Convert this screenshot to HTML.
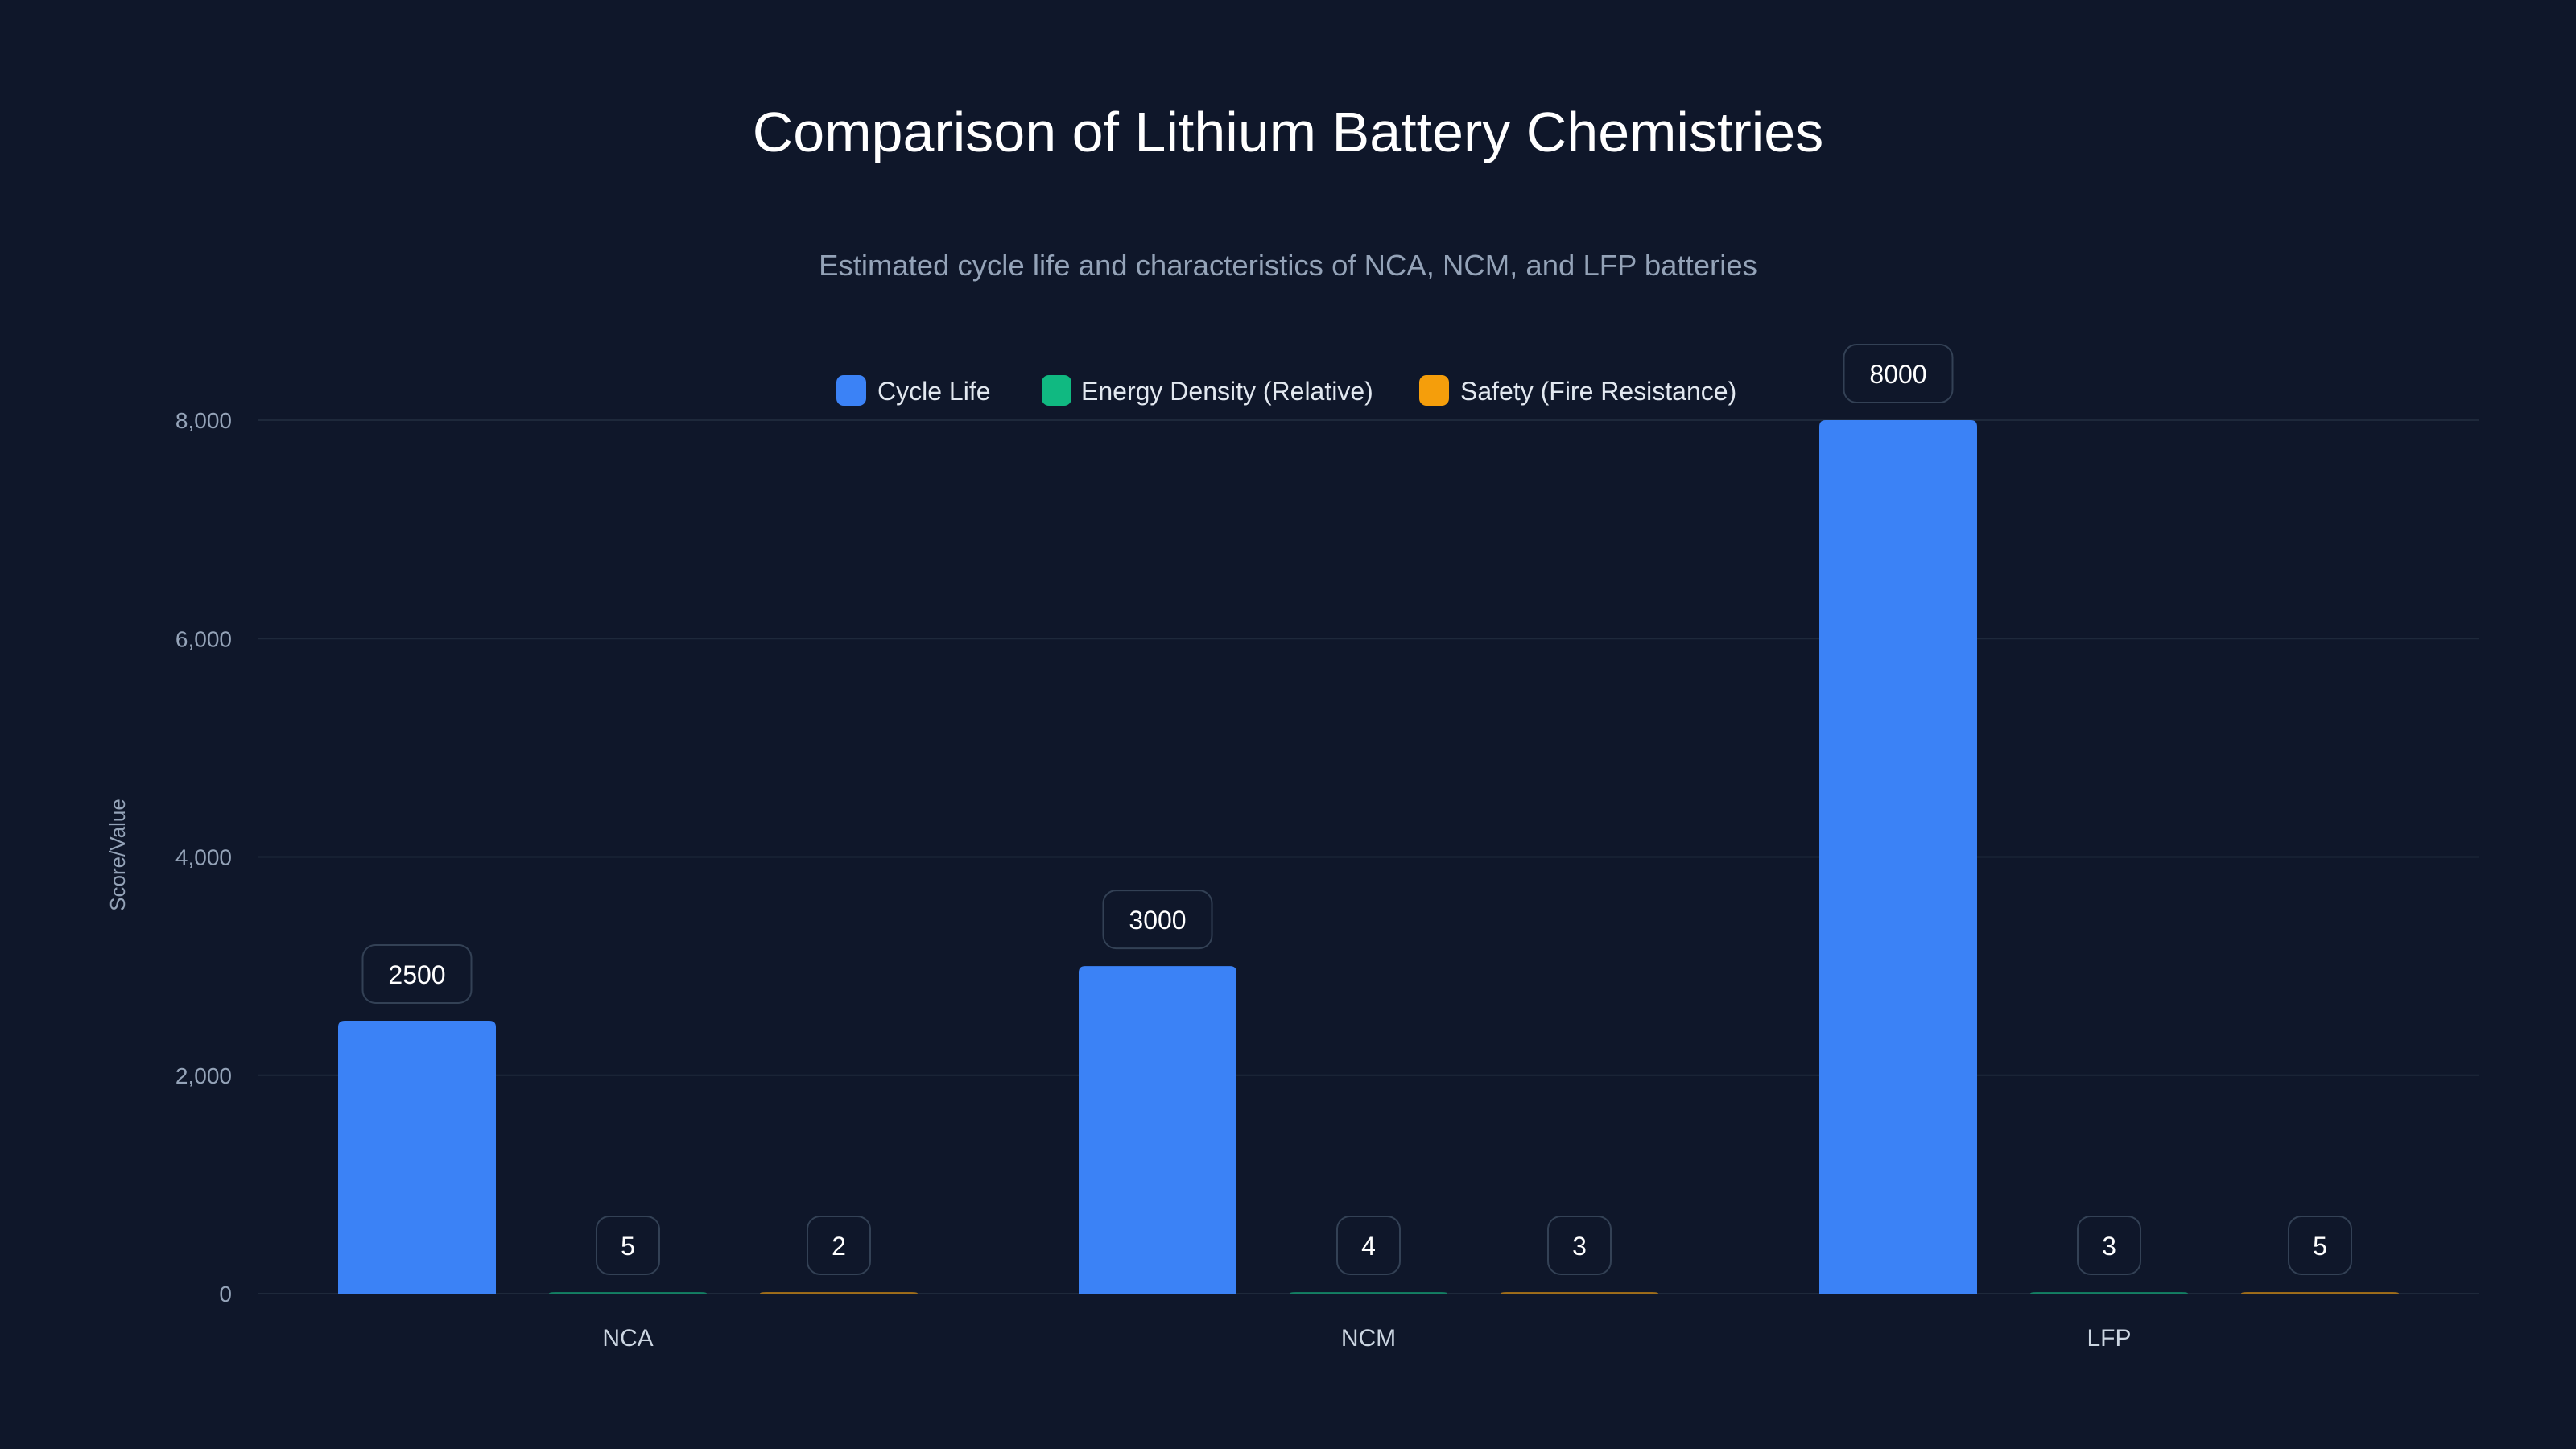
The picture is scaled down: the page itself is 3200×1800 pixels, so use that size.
<!DOCTYPE html>
<html><head><meta charset="utf-8">
<style>
html,body{margin:0;padding:0;background:#0f172a;}
svg{display:block;font-family:"Liberation Sans",sans-serif;}
</style></head>
<body>
<svg id="chart" width="3200" height="1800" viewBox="0 0 3200 1800" xmlns="http://www.w3.org/2000/svg">
<rect x="0" y="0" width="3200" height="1800" fill="#0f172a"/>
<text x="1600" y="188" text-anchor="middle" fill="#ffffff" font-size="70">Comparison of Lithium Battery Chemistries</text>
<text x="1600" y="342" text-anchor="middle" fill="#94a3b8" font-size="36.5">Estimated cycle life and characteristics of NCA, NCM, and LFP batteries</text>
<g>
 <g><rect x="1039" y="466" width="37" height="38" rx="9" fill="#3b82f6"/><text x="1090" y="497" fill="#e2e8f0" font-size="32">Cycle Life</text></g>
 <g><rect x="1294" y="466" width="37" height="38" rx="9" fill="#10b981"/><text x="1343" y="497" fill="#e2e8f0" font-size="32">Energy Density (Relative)</text></g>
 <g><rect x="1763" y="466" width="37" height="38" rx="9" fill="#f59e0b"/><text x="1814" y="497" fill="#e2e8f0" font-size="32">Safety (Fire Resistance)</text></g>
</g>
<text transform="translate(155,1062) rotate(-90)" text-anchor="middle" fill="#94a3b8" font-size="26">Score/Value</text>
<g id="grid"></g>
<g id="bars"></g>
<g id="labels"></g>
</svg>
<script>
const categories = ["NCA", "NCM", "LFP"];
const cycleLife = [2500, 3000, 8000];
const energyDensity = [5, 4, 3];
const safety = [2, 3, 5];
const yTicks = [0, 2000, 4000, 6000, 8000];
const yTickLabels = ["0", "2,000", "4,000", "6,000", "8,000"];

const NS = "http://www.w3.org/2000/svg";
const plotL = 320, plotR = 3080, plotT = 522, plotB = 1607, yMax = 8000;
function yScale(v){ return plotB - v / yMax * (plotB - plotT); }
const band = (plotR - plotL) / categories.length;
function xCenter(i){ return plotL + band * (i + 0.5); }
const barW = 196, barStep = 262;
function mk(tag, attrs, parent){ const e = document.createElementNS(NS, tag); for (const k in attrs) e.setAttribute(k, attrs[k]); parent.appendChild(e); return e; }

const grid = document.getElementById('grid');
yTicks.forEach((t, i) => {
  const y = yScale(t);
  const l = mk('line', {x1: plotL, x2: plotR, y1: y, y2: y, stroke: '#1e293b', 'stroke-width': 2}, grid);
  
  
  const tx = mk('text', {x: 288, y: y + 10, 'text-anchor': 'end', fill: '#94a3b8', 'font-size': 28}, grid);
  tx.textContent = yTickLabels[i];
  
  
});

const series = [
  {vals: cycleLife, color: '#3b82f6', name: 'cycle-life'},
  {vals: energyDensity, color: '#10b981', name: 'energy-density'},
  {vals: safety, color: '#f59e0b', name: 'safety'}
];
const bars = document.getElementById('bars');
const labels = document.getElementById('labels');
categories.forEach((c, i) => {
  const cx = xCenter(i);
  series.forEach((s, j) => {
    const bx = cx + (j - 1) * barStep;
    const v = s.vals[i];
    const yt = yScale(v);
    const h = Math.max(plotB - yt, 2);
    const rr = Math.min(8, h);
    const r = mk('path', {d: 'M' + (bx - barW/2) + ',' + plotB + ' V' + (plotB - h + rr) + ' q0,-' + rr + ' 8,-' + rr + ' H' + (bx + barW/2 - 8) + ' q8,0 8,' + rr + ' V' + plotB + ' Z', fill: s.color, opacity: j === 0 ? 1 : 0.6}, bars);
    
    
    const txt = String(v);
    const bw = txt.length > 1 ? 135 : 78, bh = 72;
    const by = plotB - h - 22 - bh;
    const box = mk('rect', {x: bx - bw/2, y: by, width: bw, height: bh, rx: 16, fill: '#0f172a', stroke: '#334155', 'stroke-width': 2}, labels);
    
    
    const t = mk('text', {x: bx, y: by + bh/2 + 12, 'text-anchor': 'middle', fill: '#ffffff', 'font-size': 32}, labels);
    t.textContent = txt;
    
    
  });
  const xl = mk('text', {x: cx, y: 1672, 'text-anchor': 'middle', fill: '#cbd5e1', 'font-size': 30}, labels);
  xl.textContent = c;
  
  
});
</script>
</body></html>
